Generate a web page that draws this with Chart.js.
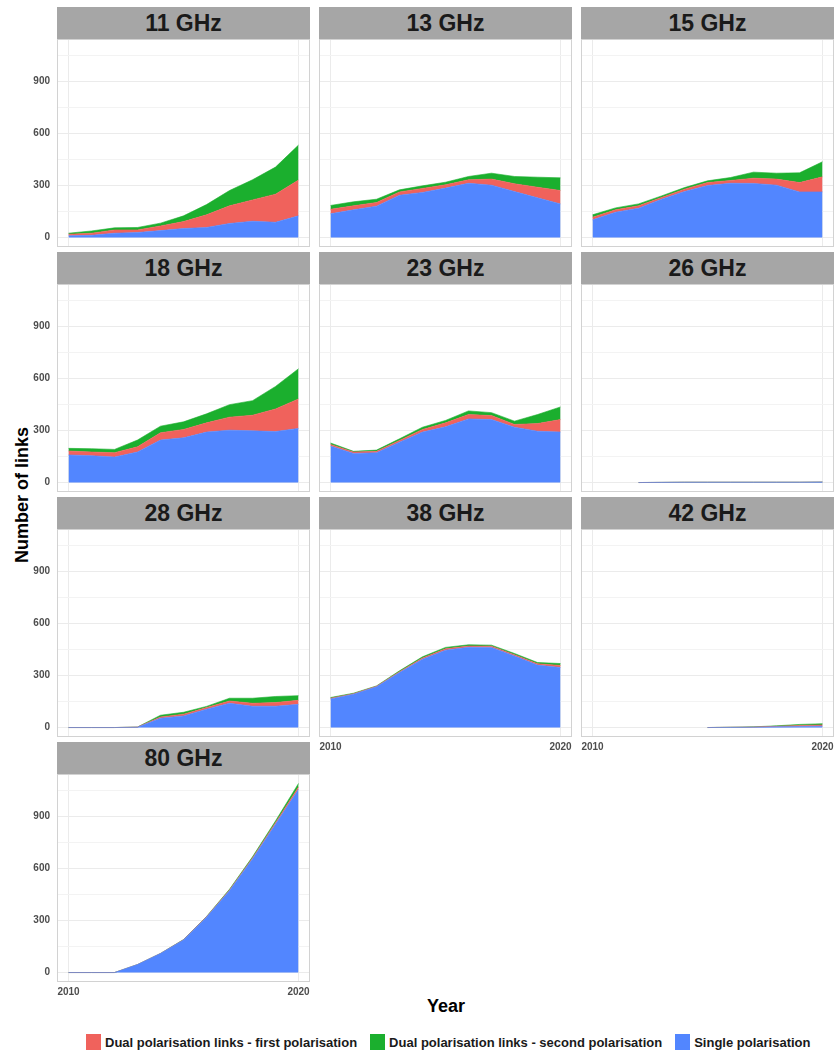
<!DOCTYPE html>
<html>
<head>
<meta charset="utf-8">
<script src="https://cdn.jsdelivr.net/npm/chart.js@4.4.1/dist/chart.umd.min.js"></script>
<style>
  body { margin: 0; background: #fff; font-family: "Liberation Sans", Arial, sans-serif; }
  #page { position: relative; width: 835px; height: 1052px; overflow: hidden; }
  .strip { position: absolute; height: 32px; line-height: 32px; background: #a6a6a6; color: #1a1a1a;
           font-weight: bold; font-size: 23px; text-align: center; }
  canvas { position: absolute; }
  .title { position: absolute; font-weight: bold; font-size: 18px; color: #000; white-space: nowrap; }
  #legend { position: absolute; left: 86px; top: 1034px; display: flex; align-items: center;
            font-weight: bold; font-size: 13px; color: #1a1a1a; white-space: nowrap; }
  #legend .key { width: 15px; height: 16px; margin-right: 4px; }
  #legend .item { display: flex; align-items: center; margin-right: 13px; }
</style>
</head>
<body>
<div id="page">
  <div class="title" id="ytitle" style="left:22px;top:495px;transform:translate(-50%,-50%) rotate(-90deg);">Number of links</div>
  <div class="title" style="left:446px;top:1006px;transform:translate(-50%,-50%);">Year</div>
  <div id="legend"></div>
</div>
<script>
// données (nombre de liens par an), null = pas de données
const years = [2010, 2011, 2012, 2013, 2014, 2015, 2016, 2017, 2018, 2019, 2020];
const bands = ['11 GHz', '13 GHz', '15 GHz', '18 GHz', '23 GHz', '26 GHz', '28 GHz', '38 GHz', '42 GHz', '80 GHz'];

const singlePol = [
  [10, 13, 25, 29, 40, 52, 58, 81, 94, 88, 125],
  [137, 160, 181, 244, 260, 285, 313, 302, 265, 229, 194],
  [102, 146, 169, 221, 265, 300, 313, 312, 302, 263, 263],
  [159, 155, 147, 176, 245, 258, 291, 302, 298, 294, 312],
  [210, 168, 172, 233, 291, 321, 367, 363, 319, 296, 291],
  [null, null, 0, 1, 2, 2, 2, 2, 2, 2, 3],
  [0, 0, 0, 2, 54, 67, 106, 140, 123, 123, 134],
  [165, 192, 235, 317, 394, 446, 463, 462, 413, 360, 346],
  [null, null, null, null, null, 0, 1, 2, 4, 6, 8],
  [0, 0, 0, 46, 110, 188, 319, 472, 655, 855, 1056]
];
const dualFirst = [
  [9, 12, 19, 15, 27, 40, 73, 102, 123, 162, 206],
  [26, 23, 21, 19, 23, 19, 20, 35, 45, 61, 77],
  [15, 14, 14, 10, 14, 17, 16, 30, 35, 54, 87],
  [23, 21, 25, 30, 42, 48, 53, 75, 90, 130, 170],
  [10, 8, 8, 10, 15, 23, 25, 23, 16, 44, 72],
  [null, null, 0, 0, 0, 0, 0, 0, 0, 0, 0],
  [0, 0, 0, 1, 7, 10, 9, 13, 17, 21, 23],
  [4, 3, 3, 5, 7, 8, 7, 7, 7, 8, 12],
  [null, null, null, null, null, 0, 1, 1, 3, 6, 7],
  [0, 0, 0, 0, 0, 1, 2, 4, 6, 9, 14]
];
const dualSecond = [
  [6, 13, 12, 14, 16, 33, 59, 88, 116, 156, 202],
  [22, 23, 19, 12, 15, 15, 19, 34, 42, 58, 73],
  [14, 11, 11, 9, 9, 10, 17, 35, 34, 56, 87],
  [15, 19, 19, 39, 38, 44, 52, 72, 84, 130, 174],
  [8, 4, 7, 9, 13, 14, 21, 17, 19, 52, 73],
  [null, null, 0, 0, 0, 0, 0, 0, 0, 0, 0],
  [0, 0, 0, 0, 10, 11, 7, 16, 29, 35, 27],
  [4, 3, 2, 5, 7, 8, 7, 6, 7, 7, 11],
  [null, null, null, null, null, 0, 0, 1, 3, 6, 7],
  [0, 0, 0, 0, 0, 1, 2, 4, 6, 10, 20]
];

const yTicks = [0, 150, 300, 450, 600, 750, 900, 1050];
const yLabels = [0, 300, 600, 900];
const xTicks = [2010, 2020];
const seriesNames = ['Dual polarisation links - first polarisation', 'Dual polarisation links - second polarisation', 'Single polarisation'];

const RED = '#f0625c', GREEN = '#1baf2e', BLUE = '#5286ff';

// mise en page des facettes (façon facet_wrap)
const colLeft = [57, 319, 581];
const panelW = 253, plotH = 208, stripH = 32, rowStep = 245;

const tickFont = { family: '"Liberation Sans", Arial, sans-serif', size: 10, weight: 'bold' };

const panelBorder = {
  id: 'panelBorder',
  afterDatasetsDraw(chart) {
    const a = chart.chartArea, c = chart.ctx;
    c.save();
    c.strokeStyle = '#d2d2d2';
    c.lineWidth = 1;
    c.strokeRect(a.left + 0.5, a.top + 0.5, a.right - a.left - 1, a.bottom - a.top - 1);
    c.restore();
  }
};

const page = document.getElementById('page');

function toPoints(vals) {
  return years.map((yr, k) => ({ x: yr, y: vals[k] }));
}

bands.forEach((band, i) => {
  const row = Math.floor(i / 3), col = i % 3;
  const showY = col === 0;
  const showX = i >= 7; // dernière facette de chaque colonne
  const leftExtra = showY ? colLeft[0] : 0;
  const bottomExtra = showX ? 20 : 0;
  const stripTop = 7 + row * rowStep;
  const plotTop = stripTop + stripH;

  const strip = document.createElement('div');
  strip.className = 'strip';
  strip.style.left = colLeft[col] + 'px';
  strip.style.top = stripTop + 'px';
  strip.style.width = panelW + 'px';
  strip.textContent = band;
  page.appendChild(strip);

  const cv = document.createElement('canvas');
  cv.width = panelW + leftExtra;
  cv.height = plotH + bottomExtra;
  cv.style.left = (colLeft[col] - leftExtra) + 'px';
  cv.style.top = plotTop + 'px';
  page.appendChild(cv);

  new Chart(cv, {
    type: 'line',
    data: {
      datasets: [
        { label: seriesNames[2], data: toPoints(singlePol[i]), backgroundColor: BLUE, borderColor: BLUE, fill: 'origin' },
        { label: seriesNames[0], data: toPoints(dualFirst[i]), backgroundColor: RED, borderColor: RED, fill: '-1' },
        { label: seriesNames[1], data: toPoints(dualSecond[i]), backgroundColor: GREEN, borderColor: GREEN, fill: '-1' }
      ]
    },
    options: {
      responsive: false,
      animation: false,
      events: [],
      layout: { padding: 0 },
      elements: { point: { radius: 0 }, line: { borderWidth: 0.6, tension: 0 } },
      plugins: { legend: { display: false }, tooltip: { enabled: false } },
      scales: {
        x: {
          type: 'linear', min: 2009.5, max: 2020.5,
          afterBuildTicks: s => { s.ticks = xTicks.map(v => ({ value: v })); },
          ticks: { display: showX, font: tickFont, color: '#4d4d4d', padding: 4, maxRotation: 0,
                   callback: v => String(v) },
          grid: { color: '#ebebeb', drawTicks: false },
          border: { display: false },
          afterFit: s => { s.height = bottomExtra; s.paddingLeft = 0; s.paddingRight = 0; }
        },
        y: {
          stacked: true, min: -54.5, max: 1144.5,
          afterBuildTicks: s => { s.ticks = yTicks.map(v => ({ value: v })); },
          ticks: { display: showY, font: tickFont, color: '#4d4d4d', padding: 7,
                   callback: v => yLabels.includes(v) ? String(v) : '' },
          grid: { drawTicks: false,
                  color: ctx => (ctx.tick && ctx.tick.value % 300 === 0) ? '#ebebeb' : '#f3f3f3' },
          border: { display: false },
          afterFit: s => { s.width = leftExtra; s.paddingTop = 0; s.paddingBottom = 0; }
        }
      }
    },
    plugins: [panelBorder]
  });
});

// légende commune en bas
const legend = document.getElementById('legend');
[[seriesNames[0], RED], [seriesNames[1], GREEN], [seriesNames[2], BLUE]].forEach(([name, color]) => {
  const item = document.createElement('div');
  item.className = 'item';
  item.innerHTML = '<div class="key" style="background:' + color + '"></div><span>' + name + '</span>';
  legend.appendChild(item);
});
</script>
</body>
</html>
